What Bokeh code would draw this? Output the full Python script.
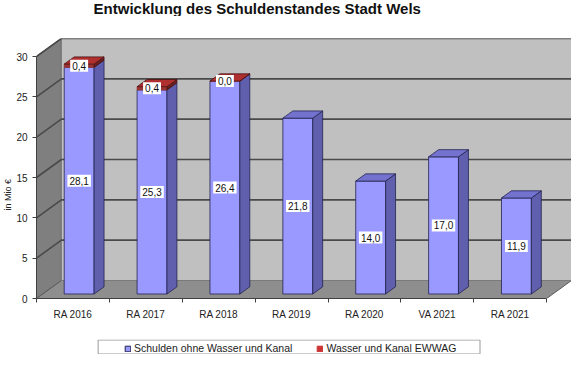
from bokeh.plotting import figure
from bokeh.layouts import column
from bokeh.models import (ColumnDataSource, FixedTicker, Legend, LegendItem,
                          LinearAxis, Range1d, Title)
from bokeh.core.properties import value
from bokeh.embed import file_html
from bokeh.resources import INLINE

# ---------------- data ----------------
categories = ["RA 2016", "RA 2017", "RA 2018", "RA 2019", "RA 2020", "VA 2021", "RA 2021"]
schulden = [28.1, 25.3, 26.4, 21.8, 14.0, 17.0, 11.9]
wasser = [0.4, 0.4, 0.0, None, None, None, None]
y_ticks = [0, 5, 10, 15, 20, 25, 30]
series_names = ["Schulden ohne Wasser und Kanal", "Wasser und Kanal EWWAG"]
title_text = "Entwicklung des Schuldenstandes Stadt Wels"
y_label = "in Mio €"

# ---------------- geometry / style ----------------
W = 571
TITLE_H, LEG_H = 16, 15
H = 354 - TITLE_H - LEG_H
BL, BR, BT, BB = 33, 0, 22, 41
frame_w = W - BL - BR
frame_h = H - BT - BB
n = len(categories)
ymax = y_ticks[-1]
DEPTH_PX_X, DEPTH_PX_Y = 25, 18
cw = (frame_w - DEPTH_PX_X) / n
yu = (frame_h - DEPTH_PX_Y) / ymax
DX = DEPTH_PX_X / cw
DY = DEPTH_PX_Y / yu
F1, F2 = 0.25, 0.65
BAR_W = 0.41
FONT = "Liberation Sans"

BLUE_FRONT, BLUE_SIDE, BLUE_TOP = "#9999FF", "#5F5FAE", "#7373CF"
RED_FRONT, RED_SIDE, RED_TOP = "#993333", "#6B1F1F", "#B03030"
EDGE = "#23234F"


def strip(height):
    f = figure(width=W, height=height, x_range=Range1d(BL, W - BR), y_range=Range1d(0, height),
               output_backend="svg", toolbar_location=None,
               x_axis_location=None, y_axis_location=None,
               min_border_left=BL, min_border_right=BR, min_border_top=0, min_border_bottom=0)
    f.xgrid.visible = False
    f.ygrid.visible = False
    f.outline_line_color = None
    return f


# ---------------- title strip ----------------
pt = strip(TITLE_H)
pt.text(x=[255], y=[TITLE_H / 2], text=[title_text], text_align="center", text_baseline="middle",
        text_font=value(FONT), text_font_size="15px", text_font_style="bold", text_color="#111111")

# ---------------- main plot ----------------
p = figure(width=W, height=H, x_range=Range1d(0, n + DX), y_range=Range1d(0, ymax + DY),
           output_backend="svg", toolbar_location=None,
           x_axis_location=None, y_axis_location=None,
           min_border_left=BL, min_border_right=BR, min_border_top=BT, min_border_bottom=BB)
p.xgrid.visible = False
p.ygrid.visible = False
p.outline_line_color = None
p.background_fill_color = "white"

# walls
p.patch([0, DX, DX, 0], [0, DY, ymax + DY, ymax], fill_color="#7F7F7F", line_color="#5A5A5A", line_width=1)
p.patch([0, n, n + DX, DX], [0, 0, DY, DY], fill_color="#8E8E8E", line_color="#5A5A5A", line_width=1)
p.patch([DX, n + DX, n + DX, DX], [DY, DY, ymax + DY, ymax + DY], fill_color="#C0C0C0",
        line_color="#7A7A7A", line_width=1)

grid_xs = [[0, DX, n + DX] for v in y_ticks[1:]]
grid_ys = [[v, v + DY, v + DY] for v in y_ticks[1:]]
p.multi_line(grid_xs, grid_ys, line_color="#4A4A4A", line_width=1.6)

# bars
dxw = (F2 - F1) * DX
dyw = (F2 - F1) * DY
fb = dict(left=[], right=[], bottom=[], top=[])
fr = dict(left=[], right=[], bottom=[], top=[])
side_b = dict(xs=[], ys=[])
side_r = dict(xs=[], ys=[])
top_b = dict(xs=[], ys=[])
top_r = dict(xs=[], ys=[])
lab = dict(x=[], y=[], text=[])

for i, (s, w) in enumerate(zip(schulden, wasser)):
    cx = i + 0.5 + F1 * DX
    x0, x1 = cx - BAR_W / 2, cx + BAR_W / 2
    yb = F1 * DY
    yt = yb + s
    fb["left"].append(x0); fb["right"].append(x1); fb["bottom"].append(yb); fb["top"].append(yt)
    side_b["xs"].append([x1, x1 + dxw, x1 + dxw, x1])
    side_b["ys"].append([yb, yb + dyw, yt + dyw, yt])
    lab["x"].append(cx); lab["y"].append(yb + s / 2)
    lab["text"].append(f"{s:.1f}".replace(".", ","))
    if w is None:
        top_b["xs"].append([x0, x1, x1 + dxw, x0 + dxw])
        top_b["ys"].append([yt, yt, yt + dyw, yt + dyw])
    else:
        yr = yt + w
        fr["left"].append(x0); fr["right"].append(x1); fr["bottom"].append(yt); fr["top"].append(yr)
        side_r["xs"].append([x1, x1 + dxw, x1 + dxw, x1])
        side_r["ys"].append([yt, yt + dyw, yr + dyw, yr])
        top_r["xs"].append([x0, x1, x1 + dxw, x0 + dxw])
        top_r["ys"].append([yr, yr, yr + dyw, yr + dyw])
        lab["x"].append(cx); lab["y"].append(yt + w / 2)
        lab["text"].append(f"{w:.1f}".replace(".", ","))

p.quad(source=ColumnDataSource(fb), left="left", right="right", bottom="bottom", top="top",
       fill_color=BLUE_FRONT, line_color=EDGE, line_width=0.8)
p.patches(source=ColumnDataSource(side_b), xs="xs", ys="ys", fill_color=BLUE_SIDE, line_color=EDGE, line_width=0.8)
p.patches(source=ColumnDataSource(top_b), xs="xs", ys="ys", fill_color=BLUE_TOP, line_color=EDGE, line_width=0.8)
p.quad(source=ColumnDataSource(fr), left="left", right="right", bottom="bottom", top="top",
       fill_color=RED_FRONT, line_color=RED_FRONT, line_width=0.8)
p.patches(source=ColumnDataSource(side_r), xs="xs", ys="ys", fill_color=RED_SIDE, line_color="#4A1010", line_width=0.8)
p.patches(source=ColumnDataSource(top_r), xs="xs", ys="ys", fill_color=RED_TOP, line_color="#4A1010", line_width=0.8)

p.text(source=ColumnDataSource(lab), x="x", y="y", text="text", text_align="center",
       text_baseline="middle", text_font_size="10px", text_color="#111111",
       text_font=value(FONT), background_fill_color="white", padding=2)

# axes
yaxis = LinearAxis(ticker=FixedTicker(ticks=y_ticks, minor_ticks=[]), bounds=(0, ymax),
                   major_tick_out=4, major_tick_in=0, minor_tick_out=0, minor_tick_in=0,
                   major_label_standoff=5, major_label_text_font_size="10px",
                   major_label_text_font=FONT, major_label_text_color="#222222",
                   axis_line_color="#404040", major_tick_line_color="#404040")
p.add_layout(yaxis, "left")

ylab = Title(text=y_label, align="left", offset=88, standoff=1,
             text_font=FONT, text_font_size="9px", text_font_style="normal", text_color="#222222")
p.add_layout(ylab, "left")

centers = [i + 0.5 for i in range(n)]
xaxis = LinearAxis(ticker=FixedTicker(ticks=centers, minor_ticks=list(range(n + 1))), bounds=(0, n),
                   major_label_overrides={c: cat for c, cat in zip(centers, categories)},
                   major_tick_out=0, major_tick_in=0, minor_tick_out=4, minor_tick_in=0,
                   major_label_standoff=6, major_label_text_font_size="10px",
                   major_label_text_font=FONT, major_label_text_color="#222222",
                   axis_line_color="#404040", minor_tick_line_color="#404040")
p.add_layout(xaxis, "below")

# ---------------- legend strip ----------------
pl = strip(LEG_H)
pl.quad(left=[95], right=[479], bottom=[0.5], top=[LEG_H - 0.5],
        fill_color="white", line_color="#9A9A9A", line_width=1)
# legend swatch renderers (kept outside the visible range; only their legend glyphs show)
lb = pl.quad(left=[0], right=[1], bottom=[0], top=[1], fill_color=BLUE_FRONT, line_color=EDGE, line_width=1)
lr = pl.quad(left=[0], right=[1], bottom=[0], top=[1], fill_color="#CC3333", line_color="#CC3333", line_width=1)
legend = Legend(items=[LegendItem(label=series_names[0], renderers=[lb]),
                       LegendItem(label=series_names[1], renderers=[lr])],
                orientation="horizontal", location=(88, 0), glyph_width=7, glyph_height=7,
                label_text_font_size="10.5px", label_text_font=FONT, label_text_color="#222222",
                label_standoff=3, spacing=24, padding=1, margin=0,
                border_line_color=None, background_fill_alpha=0, label_height=11)
pl.add_layout(legend, "center")

layout = column(pt, p, pl, spacing=0)
open("out.html", "w").write(file_html(layout, INLINE))
